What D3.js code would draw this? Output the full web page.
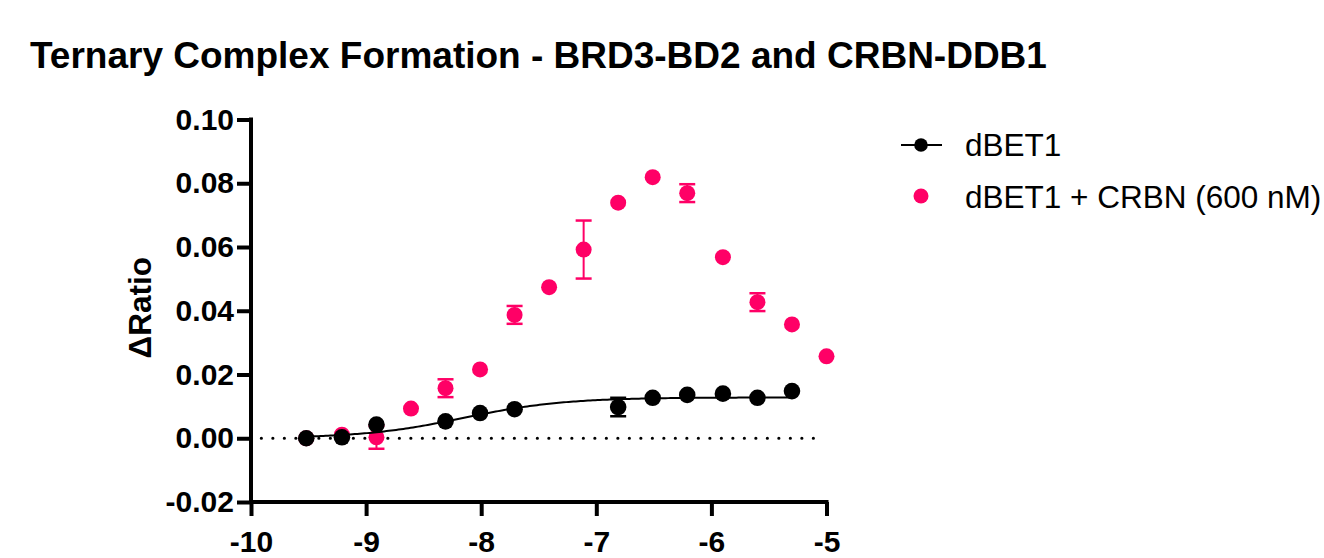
<!DOCTYPE html>
<html>
<head>
<meta charset="utf-8">
<script src="https://cdn.jsdelivr.net/npm/d3@7"></script>
<style>
  html, body { margin: 0; padding: 0; background: #fff; }
  svg { display: block; }
  text { font-family: "Liberation Sans", Arial, Helvetica, sans-serif; fill: #000; }
</style>
</head>
<body>
<svg id="chart" width="1324" height="558"></svg>
<script>
// log10 molar concentration of dBET1 (2-fold dilution series)
const logConc = [-9.52, -9.21, -8.91, -8.61, -8.31, -8.01, -7.71, -7.41, -7.11, -6.81, -6.51, -6.21, -5.90, -5.60, -5.30, -5.00];

// dBET1 alone: mean ΔRatio and SD (null = not measured)
const dbet1Mean = [0.0000, 0.0003, 0.0043, null, 0.0053, 0.0079, 0.0091, null, null, 0.0098, 0.0127, 0.0136, 0.0140, 0.0127, 0.0148, null];
const dbet1Err  = [0, 0, 0, null, 0, 0, 0, null, null, 0.0029, 0, 0, 0, 0, 0, null];

// dBET1 + CRBN (600 nM): mean ΔRatio and SD
const crbnMean = [0.0000, 0.0011, 0.0003, 0.0093, 0.0157, 0.0216, 0.0387, 0.0474, 0.0592, 0.0739, 0.0819, 0.0769, 0.0568, 0.0427, 0.0357, 0.0257];
const crbnErr  = [0, 0, 0.0036, 0, 0.0028, 0, 0.0028, 0, 0.0091, 0, 0, 0.0028, 0, 0.0028, 0, 0];

// four-parameter logistic fit for dBET1 alone
const fitBottom = 0.0;
const fitTop = 0.0128;
const fitLogEC50 = -8.15;
const fitHill = 1.0;

const xTicks = [-10, -9, -8, -7, -6, -5];
const xTickLabels = ["-10", "-9", "-8", "-7", "-6", "-5"];
const yTicks = [-0.02, 0.00, 0.02, 0.04, 0.06, 0.08, 0.10];
const yTickLabels = ["-0.02", "0.00", "0.02", "0.04", "0.06", "0.08", "0.10"];

const seriesNames = ["dBET1", "dBET1 + CRBN (600 nM)"];
const titleText = "Ternary Complex Formation - BRD3-BD2 and CRBN-DDB1";
const yLabel = "ΔRatio";

const pink = "#ff0066";
const svg = d3.select("#chart");

const x = d3.scaleLinear().domain([-10, -5]).range([251, 826.5]);
const y = d3.scaleLinear().domain([-0.02, 0.10]).range([502, 119.5]);

// title
svg.append("text")
  .attr("x", 30).attr("y", 68)
  .attr("font-size", 37).attr("font-weight", "bold")
  .text(titleText);

// axes
const xAxis = d3.axisBottom(x).tickValues(xTicks)
  .tickFormat((d, i) => xTickLabels[i]).tickSize(14);
const yAxis = d3.axisLeft(y).tickValues(yTicks)
  .tickFormat((d, i) => yTickLabels[i]).tickSize(14).tickPadding(3);

const gx = svg.append("g").attr("transform", `translate(0,${y(-0.02)})`).call(xAxis);
const gy = svg.append("g").attr("transform", `translate(${x(-10)},0)`).call(yAxis);

[gx, gy].forEach(g => {
  g.select(".domain").attr("stroke", "#000").attr("stroke-width", 4)
    .attr("stroke-linecap", "square");
  g.selectAll(".tick line").attr("stroke", "#000").attr("stroke-width", 4);
  g.selectAll(".tick text")
    .attr("font-family", "'Liberation Sans', Arial, sans-serif")
    .attr("font-size", 30).attr("font-weight", "bold").attr("fill", "#000");
});
gx.select(".domain").attr("d", `M${x(-10)},0H${x(-5)}`);
gy.select(".domain").attr("d", `M0,${y(0.10)}V${y(-0.02)}`);
gx.selectAll(".tick text").attr("dy", null).attr("y", 50);

// y-axis title
svg.append("text")
  .attr("transform", `translate(151,${(y(0.10) + y(-0.02)) / 2 - 3}) rotate(-90)`)
  .attr("text-anchor", "middle")
  .attr("font-size", 31.5).attr("font-weight", "bold")
  .text(yLabel);

// dotted baseline at zero
svg.append("line")
  .attr("x1", x(-9.91)).attr("x2", x(-5.08))
  .attr("y1", y(0)).attr("y2", y(0))
  .attr("stroke", "#000").attr("stroke-width", 3.2)
  .attr("stroke-linecap", "round").attr("stroke-dasharray", "0 11.5");

function drawSeries(means, errs, color, r) {
  const pts = logConc.map((c, i) => ({ c, m: means[i], e: errs[i] })).filter(d => d.m !== null);
  const g = svg.append("g");
  const cap = 8;
  pts.filter(d => d.e > 0).forEach(d => {
    const cx = x(d.c), y1 = y(d.m + d.e), y2 = y(d.m - d.e);
    g.append("line").attr("x1", cx).attr("x2", cx).attr("y1", y1).attr("y2", y2)
      .attr("stroke", color).attr("stroke-width", 2);
    [y1, y2].forEach(yy => g.append("line")
      .attr("x1", cx - cap).attr("x2", cx + cap).attr("y1", yy).attr("y2", yy)
      .attr("stroke", color).attr("stroke-width", 2.5));
  });
  g.selectAll("circle").data(pts).join("circle")
    .attr("cx", d => x(d.c)).attr("cy", d => y(d.m)).attr("r", r)
    .attr("fill", color);
  return g;
}

drawSeries(crbnMean, crbnErr, pink, 8);

// fitted curve for dBET1 alone
const fit = c => fitBottom + (fitTop - fitBottom) / (1 + Math.pow(10, (fitLogEC50 - c) * fitHill));
const fitPts = d3.range(0, 201).map(i => {
  const c = logConc[0] + (logConc[14] - logConc[0]) * i / 200;
  return [c, fit(c)];
});
svg.append("path")
  .attr("d", d3.line().x(d => x(d[0])).y(d => y(d[1]))(fitPts))
  .attr("fill", "none").attr("stroke", "#000").attr("stroke-width", 2);

drawSeries(dbet1Mean, dbet1Err, "#000", 8.3);

// legend
const leg = svg.append("g");
leg.append("line").attr("x1", 901).attr("x2", 942).attr("y1", 145).attr("y2", 145)
  .attr("stroke", "#000").attr("stroke-width", 2);
leg.append("circle").attr("cx", 921).attr("cy", 145).attr("r", 6.8).attr("fill", "#000");
leg.append("circle").attr("cx", 921).attr("cy", 196).attr("r", 7.5).attr("fill", pink);
leg.selectAll("text.lbl").data(seriesNames).join("text")
  .attr("class", "lbl")
  .attr("x", 965).attr("y", (d, i) => 156 + i * 51.5)
  .attr("font-size", 31.5)
  .text(d => d);
</script>
</body>
</html>
